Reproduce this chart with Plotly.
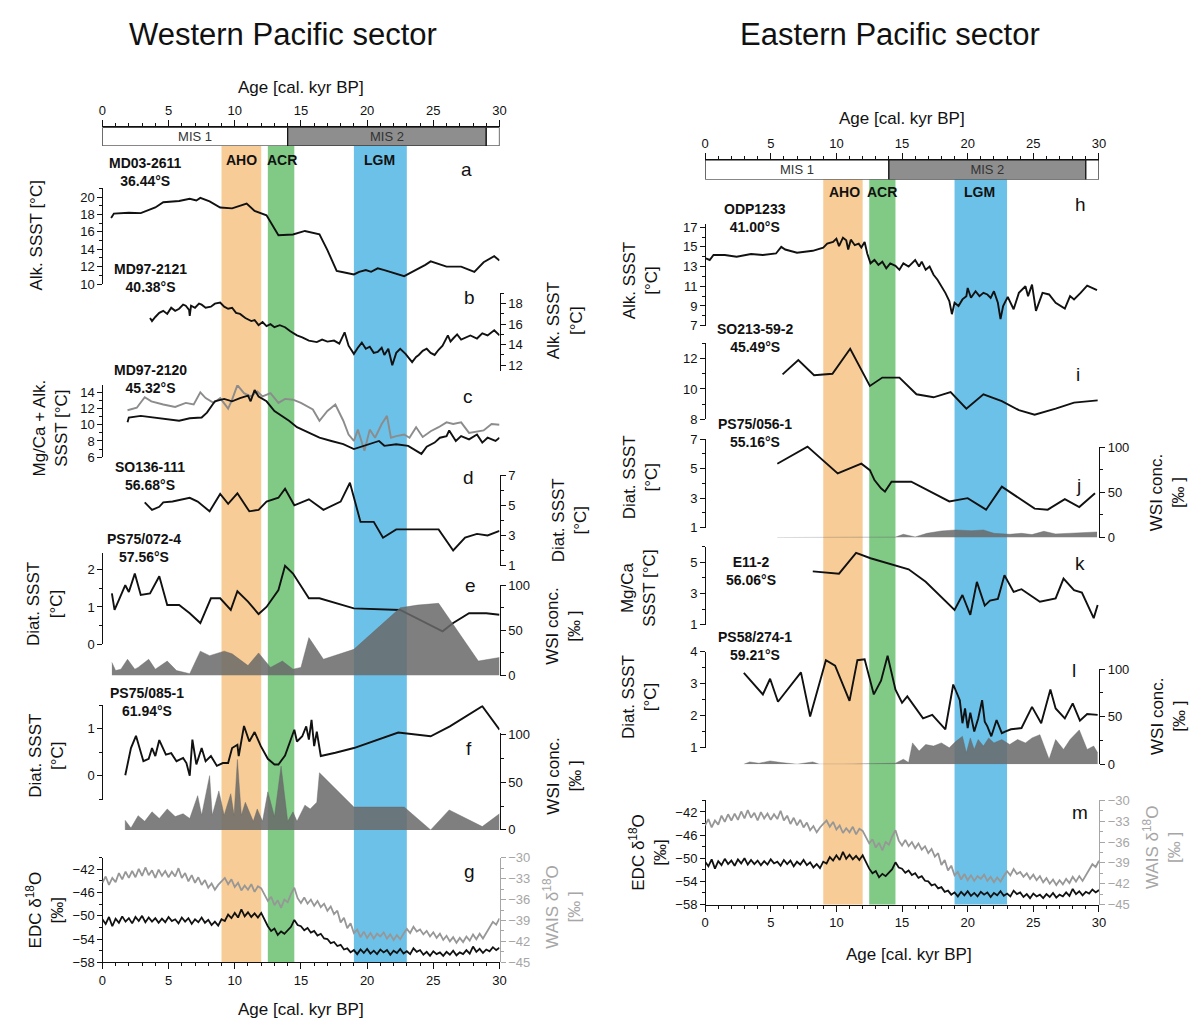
import plotly.graph_objects as go

W, H = 1203, 1028
OFF = 8  # the page body adds an 8 px margin; positions below are page pixels
FONT = "Arial, Liberation Sans, sans-serif"

# ---------------- data ----------------
AGE_TICKS = [0, 5, 10, 15, 20, 25, 30]

BAND_NAMES = ["AHO", "ACR", "LGM"]
BAND_START = [9.0, 12.5, 19.0]
BAND_END = [12.0, 14.5, 23.0]

MIS_LABELS = ["MIS 1", "MIS 2"]
MIS_START = [0, 14, 29]
MIS_END = [14, 29, 30]

# a  MD03-2611 alkenone SSST
A_AGE = [0.66, 0.87, 2.0, 2.9, 4.0, 4.6, 5.8, 6.6, 7.1, 7.4, 8.1, 8.9, 9.8, 10.9, 11.5, 12.4, 13.3, 14.4,
         15.3, 16.4, 17.0, 17.7, 18.2, 19.0, 19.4, 19.9, 20.3, 20.8, 21.3, 21.9, 22.8, 23.3, 23.7, 24.4,
         24.8, 26.0, 27.1, 28.1, 28.8, 29.6, 30.0]
A_SST = [17.6, 18.1, 18.2, 18.15, 18.8, 19.4, 19.55, 19.8, 19.6, 19.9, 19.5, 18.8, 18.7, 19.25, 18.4, 17.9,
         15.6, 15.7, 16.1, 15.7, 13.9, 11.5, 11.35, 11.1, 11.4, 11.6, 11.4, 11.8, 11.6, 11.3, 10.9, 11.3,
         11.6, 12.2, 12.6, 12.0, 12.0, 11.4, 12.5, 13.2, 12.7]

# b  MD97-2121 alkenone SSST
B_AGE = [3.6, 3.75, 4.0, 4.3, 4.6, 4.9, 5.2, 5.5, 5.8, 6.1, 6.3, 6.55, 6.6, 6.7, 7.0, 7.3, 7.5, 7.8, 8.2,
         8.5, 8.9, 9.2, 9.5, 9.8, 10.1, 10.4, 10.8, 11.25, 11.5, 11.8, 12.1, 12.4, 12.7, 13.0, 13.4, 13.8,
         14.2, 14.7, 15.1, 15.6, 16.2, 16.6, 17.0, 17.5, 17.9, 18.3, 18.6, 19.0, 19.3, 19.6, 19.9, 20.2,
         20.5, 20.8, 21.1, 21.3, 21.6, 21.9, 22.2, 22.5, 22.9, 23.2, 23.4, 23.7, 23.9, 24.2, 24.5, 24.8,
         25.1, 25.4, 25.7, 26.1, 26.3, 26.5, 26.8, 27.1, 27.4, 27.8, 28.3, 28.7, 29.1, 29.6, 30.0]
B_SST = [16.6, 16.3, 16.7, 17.1, 17.3, 17.0, 17.6, 17.3, 17.5, 17.9, 17.8, 17.4, 16.8, 17.8, 17.6, 18.0,
         17.9, 17.6, 17.7, 18.0, 18.1, 17.7, 17.5, 17.6, 17.1, 17.0, 16.6, 16.3, 16.4, 15.9, 16.2, 15.8,
         16.0, 15.7, 15.9, 15.7, 15.3, 14.9, 14.7, 14.4, 14.25, 14.5, 14.3, 14.4, 14.1, 15.2, 13.9, 13.1,
         13.7, 14.2, 13.6, 13.8, 13.2, 13.3, 13.7, 13.0, 13.6, 12.0, 13.2, 13.6, 13.1, 12.6, 12.3, 12.8,
         13.0, 13.4, 13.6, 13.2, 13.0, 13.5, 13.9, 14.9, 14.3, 14.6, 15.0, 14.5, 14.7, 14.9, 14.6, 15.1,
         14.9, 15.4, 14.9]

# c  MD97-2120 alkenone (black) and Mg/Ca (grey) SSST
C_ALK_AGE = [1.9, 2.0, 2.9, 4.0, 4.9, 5.8, 6.6, 7.5, 7.9, 8.5, 9.2, 9.8, 10.4, 11.0, 11.2, 11.5, 11.8, 12.4,
             13.0, 13.6, 14.1, 14.7, 15.6, 16.4, 17.3, 18.2, 19.0, 19.6, 20.2, 20.9, 21.3, 22.2, 23.1, 23.5,
             24.1, 24.5, 25.1, 25.5, 26.0, 26.2, 26.7, 27.1, 27.7, 28.3, 28.7, 29.1, 29.7, 30.0]
C_ALK_SST = [10.3, 10.9, 11.1, 10.9, 10.7, 10.5, 10.8, 10.9, 11.5, 12.9, 13.2, 12.9, 13.3, 13.6, 12.9, 14.3,
             13.5, 12.9, 11.7, 11.1, 10.5, 9.7, 9.0, 8.4, 8.0, 7.6, 7.0, 7.3, 7.6, 8.0, 7.4, 7.6, 7.4, 7.0,
             6.4, 7.3, 7.8, 8.4, 8.6, 9.3, 8.0, 8.6, 8.2, 8.8, 7.8, 8.4, 8.0, 8.4]
C_MGCA_AGE = [1.9, 2.6, 3.2, 3.7, 4.6, 5.5, 6.3, 6.9, 7.4, 7.8, 8.4, 8.9, 9.5, 9.8, 10.2, 10.7, 11.2, 11.7,
              12.1, 12.7, 13.3, 13.8, 14.4, 15.0, 15.9, 16.4, 17.0, 17.6, 18.2, 18.6, 19.0, 19.3, 19.8,
              20.2, 20.6, 21.1, 21.5, 21.8, 22.2, 22.8, 23.2, 23.7, 24.2, 24.8, 25.4, 26.0, 26.5, 27.1,
              27.7, 28.3, 28.8, 29.4, 30.0]
C_MGCA_SST = [11.8, 12.1, 13.4, 12.9, 12.5, 12.2, 12.7, 12.5, 14.0, 13.3, 12.7, 13.3, 12.0, 13.1, 14.9, 13.9,
              13.5, 14.1, 13.5, 13.9, 12.7, 13.2, 13.1, 12.7, 11.9, 10.5, 11.7, 12.5, 10.5, 8.8, 8.0, 9.4,
              6.8, 9.4, 8.4, 10.1, 11.1, 8.4, 8.6, 8.8, 8.4, 9.7, 8.5, 9.2, 9.7, 10.3, 10.1, 10.3, 9.0, 9.2,
              9.3, 10.1, 10.0]

# d  SO136-111 diatom SSST
D_AGE = [3.2, 3.75, 4.3, 4.6, 5.3, 6.1, 6.6, 7.2, 8.1, 8.9, 9.5, 10.2, 11.1, 11.8, 12.4, 13.3, 13.8, 14.5,
         15.6, 16.7, 18.0, 18.7, 19.5, 20.5, 21.2, 22.2, 25.4, 26.5, 27.4, 28.3, 29.1, 30.0]
D_SST = [5.2, 4.7, 4.9, 5.2, 5.25, 5.4, 5.5, 5.25, 4.6, 5.75, 5.1, 5.8, 4.6, 4.7, 5.25, 5.5, 6.1, 5.0, 5.4,
         4.7, 5.25, 6.5, 3.9, 3.9, 2.85, 3.4, 3.4, 2.0, 2.85, 3.1, 3.0, 3.3]

# e  PS75/072-4 diatom SSST and WSI concentration
E_AGE = [0.72, 0.92, 1.3, 1.73, 2.0, 2.45, 2.9, 3.6, 4.3, 4.9, 5.8, 6.6, 7.4, 8.2, 8.9, 9.7, 10.2, 11.0,
         11.8, 12.4, 13.3, 13.8, 14.4, 15.6, 16.4, 17.6, 19.0, 22.5, 25.7, 26.5, 27.7, 29.0, 30.0]
E_SST = [1.36, 0.92, 1.23, 1.58, 1.4, 1.89, 1.32, 1.36, 1.82, 1.05, 1.05, 0.83, 0.57, 1.23, 1.23, 0.92, 1.42,
         1.14, 0.81, 1.0, 1.45, 2.1, 1.89, 1.23, 1.23, 1.1, 0.96, 0.92, 0.35, 0.57, 0.83, 0.83, 0.79]
E_WSI_AGE = [0.72, 1.0, 1.4, 1.9, 2.45, 2.7, 3.5, 4.0, 4.9, 5.6, 6.6, 7.4, 8.1, 9.2, 9.8, 11.0, 11.8, 12.7,
             13.6, 14.4, 15.0, 15.6, 16.7, 17.9, 19.0, 22.5, 23.8, 25.4, 28.4, 30.0]
E_WSI = [14.5, 5.5, 7, 18, 7, 9, 18, 7, 16, 5.5, 2, 27, 22, 27, 24, 11, 25, 9, 16, 7, 9, 42, 18, 24, 29, 75,
         78, 80, 16, 20]

# f  PS75/085-1 diatom SSST and WSI concentration
F_AGE = [1.73, 2.16, 2.54, 3.1, 3.5, 3.75, 4.0, 4.3, 4.8, 5.2, 5.6, 6.1, 6.35, 6.6, 6.8, 7.1, 7.5, 7.8, 8.2,
         8.65, 9.1, 9.5, 9.8, 10.2, 10.3, 10.7, 11.1, 11.5, 11.97, 12.5, 13.0, 13.3, 13.8, 14.5, 14.7, 15.1,
         15.4, 15.6, 15.8, 16.0, 16.2, 16.4, 16.5, 17.6, 19.0, 22.35, 24.8, 26.25, 28.7, 30.0]
F_SST = [0.01, 0.59, 0.85, 0.31, 0.36, 0.59, 0.42, 0.76, 0.45, 0.48, 0.31, 0.38, 0.27, 0.0, 0.77, 0.24, 0.59,
         0.31, 0.42, 0.21, 0.27, 0.27, 0.59, 0.66, 0.42, 1.06, 0.73, 0.93, 0.63, 0.36, 0.24, 0.24, 0.43, 0.98,
         0.73, 0.84, 1.05, 0.77, 1.19, 0.63, 0.94, 0.56, 0.42, 0.49, 0.59, 0.92, 0.84, 1.05, 1.48, 0.98]
F_WSI_AGE = [1.73, 1.73, 2.16, 2.7, 3.2, 3.75, 4.3, 4.9, 5.5, 6.1, 6.6, 7.2, 7.5, 8.1, 8.3, 8.8, 9.2, 9.7,
             9.95, 10.2, 10.5, 10.8, 11.4, 11.7, 12.1, 12.5, 13.0, 13.5, 14.0, 14.4, 14.7, 15.3, 15.7, 16.2,
             16.4, 19.0, 22.8, 24.8, 26.2, 28.7, 30.0]
F_WSI = [0, 10, 2, 15, 9, 19, 12, 22, 14, 17, 12, 36, 15.5, 57, 15.5, 41, 15.5, 38, 15.5, 74, 15.5, 29, 9,
         22, 9, 40, 14, 67, 9, 19, 9, 26, 22, 29, 60, 24, 24, 0, 21, 3.5, 17]

# g / m  ice cores (EDC and WAIS d18O), regular 0.25 kyr sampling
ICE_AGE_START = 0.0
ICE_AGE_STEP = 0.25
EDC_D18O = [-50.6, -51.4, -50.2, -51.8, -50.5, -51.2, -50.1, -51.0, -50.4, -51.3, -50.2, -50.9, -50.0,
            -51.1, -50.3, -51.0, -50.4, -51.2, -50.5, -51.1, -50.2, -50.9, -50.6, -51.3, -50.3, -51.0,
            -50.4, -51.4, -50.6, -51.1, -50.3, -51.2, -50.7, -51.6, -51.0, -51.7, -50.6, -50.9, -49.8,
            -50.4, -49.5, -50.3, -48.9, -50.1, -49.4, -50.2, -49.6, -50.3, -49.5, -50.6, -51.8, -52.6,
            -52.2, -53.3, -52.7, -53.1, -52.4, -51.9, -50.7, -51.6, -51.8, -52.5, -52.1, -52.9, -52.6,
            -53.4, -53.1, -53.9, -54.0, -54.7, -54.5, -55.2, -55.0, -55.8, -55.6, -56.3, -55.9, -56.6,
            -55.8, -56.4, -55.7, -56.5, -56.0, -56.6, -55.8, -56.3, -55.9, -56.7, -56.0, -56.4, -55.7,
            -56.5, -56.1, -56.6, -55.6, -56.2, -55.9, -56.7, -56.2, -56.9, -56.1, -56.6, -56.3, -56.9,
            -56.2, -56.7, -56.0, -56.8, -56.3, -56.6, -55.9, -56.5, -55.3, -56.2, -55.7, -56.4, -55.8,
            -56.1, -55.4, -55.9, -55.5]
WAIS_D18O = [-33.6, -32.7, -33.9, -32.9, -33.5, -32.2, -33.1, -32.0, -32.9, -31.9, -32.8, -31.6, -32.6,
             -31.4, -32.5, -31.8, -32.9, -31.7, -32.6, -31.9, -32.8, -32.0, -32.7, -31.5, -32.9, -32.2,
             -33.4, -32.5, -33.6, -32.8, -33.9, -33.2, -34.3, -33.7, -34.6, -33.9, -33.4, -32.9, -33.8,
             -33.1, -34.2, -33.6, -34.7, -34.0, -34.6, -33.8, -34.9, -34.1, -34.4, -35.3, -36.2, -35.6,
             -36.8, -36.1, -37.2, -36.0, -36.4, -35.2, -34.3, -35.8, -36.5, -35.7, -36.6, -36.0, -36.9,
             -36.2, -37.1, -36.6, -37.6, -37.0, -38.1, -37.6, -39.3, -38.6, -40.1, -39.4, -40.8, -40.3,
             -41.4, -40.6, -41.5, -40.8, -41.6, -40.9, -41.3, -40.7, -41.6, -41.0, -41.8, -41.1, -41.7,
             -40.9, -40.2, -40.8, -39.9, -40.6, -40.3, -41.0, -40.5, -41.3, -40.7, -41.5, -40.9, -41.8,
             -41.2, -42.0, -41.4, -42.2, -41.5, -42.1, -41.3, -41.9, -41.0, -41.7, -40.9, -41.6, -40.8,
             -40.1, -39.2, -39.6, -38.7]

# h  ODP1233 alkenone SSST
H_AGE = [0.06, 0.35, 0.64, 1.5, 2.4, 3.5, 4.4, 5.4, 5.8, 6.1, 7.0, 8.2, 9.0, 9.3, 9.75, 10.0, 10.2, 10.5,
         10.75, 10.9, 11.1, 11.4, 11.7, 11.9, 12.15, 12.35, 12.6, 12.9, 13.2, 13.5, 13.8, 14.1, 14.5, 14.8,
         15.1, 15.5, 16.0, 16.3, 16.5, 16.8, 17.1, 17.4, 17.7, 18.0, 18.3, 18.6, 18.8, 19.0, 19.3, 19.6,
         19.9, 20.0, 20.25, 20.6, 20.9, 21.2, 21.5, 21.75, 22.0, 22.3, 22.5, 22.7, 23.05, 23.5, 23.9, 24.4,
         24.6, 24.9, 25.2, 25.7, 26.2, 26.7, 27.4, 27.8, 28.1, 28.6, 29.1, 29.85]
H_SST = [13.83, 13.67, 14.17, 14.17, 14.0, 14.27, 14.17, 14.33, 15.0, 14.73, 14.4, 14.6, 14.93, 15.33, 15.5,
         15.83, 15.07, 15.93, 15.67, 14.73, 15.73, 15.17, 15.33, 14.93, 15.5, 14.33, 13.33, 13.67, 13.17,
         13.5, 12.83, 13.33, 13.07, 12.67, 13.33, 13.0, 13.67, 13.0, 13.5, 12.67, 13.0, 12.17, 11.67, 11.0,
         10.33, 9.5, 8.17, 9.33, 9.0, 9.67, 10.0, 10.83, 9.83, 10.5, 10.0, 10.33, 10.17, 9.83, 10.5, 9.33,
         7.67, 9.0, 9.93, 8.67, 10.33, 11.0, 10.0, 11.17, 8.5, 10.33, 10.17, 9.33, 8.73, 10.0, 9.67, 10.33,
         11.07, 10.6]

# i  SO213-59-2 alkenone SSST
I_AGE = [5.9, 7.1, 8.3, 9.7, 11.05, 12.55, 13.5, 14.8, 16.1, 17.4, 18.7, 19.9, 21.2, 22.6, 23.9, 25.1,
         26.7, 28.1, 29.9]
I_SST = [10.96, 11.9, 10.9, 11.0, 12.65, 10.2, 10.75, 10.75, 9.65, 9.45, 9.8, 8.7, 9.65, 9.2, 8.6, 8.3,
         8.7, 9.1, 9.25]

# j  PS75/056-1 diatom SSST and WSI concentration
J_AGE = [5.5, 7.8, 10.1, 11.9, 12.55, 12.9, 13.4, 13.7, 14.2, 15.7, 18.6, 20.0, 21.4, 22.6, 25.1, 26.1,
         27.4, 28.5, 29.7]
J_SST = [5.33, 6.49, 4.67, 5.33, 4.89, 4.22, 3.67, 3.44, 4.11, 4.11, 2.78, 3.0, 2.22, 3.78, 2.29, 2.22,
         2.93, 2.4, 3.33]
J_WSI_AGE = [5.5, 14.5, 15.1, 16.0, 16.9, 18.0, 19.1, 20.3, 21.2, 22.0, 23.2, 24.1, 24.9, 25.8, 26.7,
             27.5, 28.7, 29.85]
J_WSI = [0, 0.5, 3.6, 0.7, 4.7, 7.3, 8.4, 7.6, 8.4, 4.7, 3.6, 4.7, 3.3, 6.9, 4.0, 4.7, 5.5, 6.2]

# k  E11-2 Mg/Ca SSST
K_AGE = [8.2, 10.2, 11.5, 12.6, 15.5, 16.8, 19.0, 19.6, 20.2, 20.7, 21.3, 21.7, 22.3, 22.8, 23.5, 24.1,
         25.5, 26.7, 27.3, 28.1, 28.7, 29.6, 29.9]
K_SST = [4.41, 4.26, 5.59, 5.25, 4.54, 3.74, 1.95, 2.9, 1.63, 3.74, 2.22, 2.54, 2.64, 4.16, 3.1, 3.27, 2.47,
         2.68, 3.95, 3.21, 3.06, 1.42, 2.26]

# l  PS58/274-1 diatom SSST and WSI concentration
L_AGE = [2.95, 4.4, 4.95, 5.55, 7.3, 8.0, 9.2, 9.9, 11.0, 11.6, 12.15, 12.85, 13.4, 13.9, 14.5, 15.0, 15.4,
         16.6, 17.3, 18.3, 18.9, 19.4, 19.6, 19.8, 20.0, 20.2, 20.5, 20.8, 21.1, 21.3, 21.5, 21.8, 22.2,
         22.6, 22.85, 23.3, 24.1, 24.9, 25.6, 26.3, 26.7, 27.4, 28.0, 28.55, 29.1, 29.9]
L_SST = [3.34, 2.67, 3.16, 2.44, 3.36, 1.98, 3.74, 3.57, 2.47, 3.74, 3.77, 2.67, 3.1, 3.88, 2.82, 2.41,
         2.61, 1.92, 2.03, 1.58, 2.98, 2.49, 1.77, 2.23, 1.62, 2.1, 1.51, 1.92, 2.49, 1.82, 1.67, 1.36, 1.87,
         1.46, 1.51, 1.58, 1.62, 2.28, 1.77, 2.82, 2.23, 1.92, 2.39, 1.85, 2.06, 2.03]
L_WSI_AGE = [2.95, 3.4, 4.1, 4.95, 5.8, 7.0, 8.2, 8.7, 10.5, 14.5, 15.1, 15.5, 15.8, 16.3, 16.8, 17.4, 18.0,
             18.6, 19.1, 19.6, 19.9, 20.2, 20.5, 20.8, 21.2, 21.6, 22.0, 22.6, 23.2, 23.8, 24.4, 24.9, 25.5,
             26.2, 26.7, 27.3, 27.8, 28.5, 29.1, 29.6, 29.9]
L_WSI = [0, 2.4, 1, 3.4, 1.7, 0, 2.4, 0, 0, 1, 5.2, 1.7, 22.4, 13.8, 20.7, 19, 22.4, 17.2, 24, 29.3, 12,
         27.6, 15.5, 25.9, 19, 27.6, 22.4, 25.9, 20.7, 25.9, 22.4, 27.6, 31, 5.2, 25.9, 15.5, 25.9, 36,
         15.5, 19, 12]


# ---------------- layout helpers (page-pixel geometry) ----------------
def px(p):
    return (p - OFF) / W


def py(p):
    return 1 - (p - OFF) / H


INK = "#111111"
WAIS_COL = "#a6a6a6"


def yaxis(p_lo, p_hi, rng, xpos, side, tickvals, minor, color=INK):
    return dict(domain=[py(p_lo), py(p_hi)], range=rng, anchor="free", position=px(xpos), side=side,
                showline=True, linecolor=color, linewidth=1.2, ticks="outside", ticklen=5, tickwidth=1.2,
                tickcolor=color, tickvals=tickvals,
                minor=dict(dtick=minor, ticklen=3, tickwidth=1, tickcolor=color, ticks="outside", showgrid=False),
                showgrid=False, zeroline=False, tickfont=dict(family=FONT, size=13, color=color),
                fixedrange=True)


def xaxis(x0p, x1p, anchor, side):
    return dict(domain=[px(x0p), px(x1p)], range=[0, 30], anchor=anchor, side=side, showline=True,
                linecolor=INK, linewidth=1.2, ticks="outside", ticklen=6, tickwidth=1.2,
                tickcolor=INK, tickvals=AGE_TICKS,
                minor=dict(dtick=1, ticklen=3, tickwidth=1, tickcolor=INK, ticks="outside", showgrid=False),
                showgrid=False, zeroline=False, tickfont=dict(family=FONT, size=13, color=INK),
                fixedrange=True)


LX0, LX1 = 99.2, 500.0     # left column x extent (age 0 -> 30)
RX0, RX1 = 707.5, 1105.0   # right column x extent

fig = go.Figure()


def line(x, y, xa, ya, color=INK, width=1.9):
    fig.add_trace(go.Scatter(x=x, y=y, xaxis=xa, yaxis=ya, mode="lines",
                             line=dict(color=color, width=width), hoverinfo="skip"))


def area(x, y, xa, ya):
    fig.add_trace(go.Scatter(x=x, y=y, xaxis=xa, yaxis=ya, mode="lines", fill="tozeroy",
                             fillcolor="rgba(105,105,105,0.85)", line=dict(color="rgba(105,105,105,0.85)", width=0.5),
                             hoverinfo="skip"))


def ice(xa, ya_edc, ya_wais):
    fig.add_trace(go.Scatter(x0=ICE_AGE_START, dx=ICE_AGE_STEP, y=WAIS_D18O, xaxis=xa, yaxis=ya_wais,
                             mode="lines", line=dict(color="#979797", width=1.8), hoverinfo="skip"))
    fig.add_trace(go.Scatter(x0=ICE_AGE_START, dx=ICE_AGE_STEP, y=EDC_D18O, xaxis=xa, yaxis=ya_edc,
                             mode="lines", line=dict(color=INK, width=1.8), hoverinfo="skip"))


def mis_bar(xa, ya):
    fig.add_trace(go.Bar(y=[0.5] * len(MIS_START), x=[e - s for s, e in zip(MIS_START, MIS_END)],
                         base=MIS_START, orientation="h", width=[1] * len(MIS_START), xaxis=xa, yaxis=ya,
                         marker=dict(color=["white", "#8e8e8e", "white"], line=dict(color=INK, width=1.2)),
                         text=MIS_LABELS, textposition="inside", insidetextanchor="middle", textangle=0,
                         constraintext="none",
                         textfont=dict(family=FONT, size=13, color="#333333"), hoverinfo="skip"))


# left column traces
line(A_AGE, A_SST, "x", "y")
line(B_AGE, B_SST, "x", "y2")
line(C_MGCA_AGE, C_MGCA_SST, "x", "y3", color="#8c8c8c")
line(C_ALK_AGE, C_ALK_SST, "x", "y3")
line(D_AGE, D_SST, "x", "y4")
area(E_WSI_AGE, E_WSI, "x", "y6")
line(E_AGE, E_SST, "x", "y5")
area(F_WSI_AGE, F_WSI, "x", "y8")
line(F_AGE, F_SST, "x", "y7")
ice("x", "y9", "y10")
mis_bar("x3", "y11")

# right column traces
line(H_AGE, H_SST, "x2", "y12")
line(I_AGE, I_SST, "x2", "y13")
area(J_WSI_AGE, J_WSI, "x2", "y15")
line(J_AGE, J_SST, "x2", "y14")
line(K_AGE, K_SST, "x2", "y16")
area(L_WSI_AGE, L_WSI, "x2", "y18")
line(L_AGE, L_SST, "x2", "y17")
ice("x2", "y19", "y20")
mis_bar("x4", "y21")

layout = dict(
    width=W, height=H, margin=dict(l=0, r=0, t=0, b=0), showlegend=False,
    paper_bgcolor="white", plot_bgcolor="rgba(0,0,0,0)", barmode="overlay",
    font=dict(family=FONT, size=13, color=INK),
    xaxis=xaxis(LX0, LX1, "y9", "bottom"),
    xaxis2=xaxis(RX0, RX1, "y19", "bottom"),
    xaxis3=xaxis(LX0, LX1, "y11", "top"),
    xaxis4=xaxis(RX0, RX1, "y21", "top"),
    # left column
    yaxis=yaxis(281.0, 183.9, [10, 21], LX0, "left", [10, 12, 14, 16, 18, 20], 1),
    yaxis2=yaxis(369.6, 290.5, [11.4, 19.0], LX1, "right", [12, 14, 16, 18], 1),
    yaxis3=yaxis(456.7, 383.6, [6, 14.9], LX0, "left", [6, 8, 10, 12, 14], 1),
    yaxis4=yaxis(566.7, 475.0, [1, 7], LX1, "right", [1, 3, 5, 7], 1),
    yaxis5=yaxis(646.7, 553.6, [0, 2.45], LX0, "left", [0, 1, 2], 0.5),
    yaxis6=yaxis(678.3, 586.7, [0, 100], LX1, "right", [0, 50, 100], 25),
    yaxis7=yaxis(804.8, 708.5, [-0.52, 1.5], LX0, "left", [0, 1], 0.5),
    yaxis8=yaxis(835.0, 736.4, [0, 102], LX1, "right", [0, 50, 100], 25),
    yaxis9=yaxis(969.3, 863.2, [-58, -40], LX0, "left", [-58, -54, -50, -46, -42], 2),
    yaxis10=yaxis(969.3, 863.2, [-45, -30], LX1, "right", [-45, -42, -39, -36, -33, -30], 1.5, color=WAIS_COL),
    yaxis11=dict(domain=[py(141), py(122)], range=[0, 1], anchor="free", position=px(LX0), visible=False,
                 fixedrange=True),
    # right column
    yaxis12=yaxis(323.3, 220.3, [7, 17.3], RX0, "left", [7, 9, 11, 13, 15, 17], 1),
    yaxis13=yaxis(418.3, 341.3, [8, 13], RX0, "left", [8, 10, 12], 1),
    yaxis14=yaxis(528.3, 438.3, [1, 7], RX0, "left", [1, 3, 5, 7], 1),
    yaxis15=yaxis(538.3, 446.7, [0, 100], RX1, "right", [0, 50, 100], 25),
    yaxis16=yaxis(626.7, 547.4, [1, 6], RX0, "left", [1, 3, 5], 1),
    yaxis17=yaxis(751.7, 654.3, [1, 4], RX0, "left", [1, 2, 3, 4], 0.5),
    yaxis18=yaxis(768.3, 671.7, [0, 100], RX1, "right", [0, 50, 100], 25),
    yaxis19=yaxis(910.7, 805.0, [-58, -40], RX0, "left", [-58, -54, -50, -46, -42], 2),
    yaxis20=yaxis(910.7, 805.0, [-45, -30], RX1, "right", [-45, -42, -39, -36, -33, -30], 1.5, color=WAIS_COL),
    yaxis21=dict(domain=[py(175), py(155)], range=[0, 1], anchor="free", position=px(RX0), visible=False,
                 fixedrange=True),
)
fig.update_layout(**layout)

# climate-event bands (behind the curves)
BAND_COLORS = ["rgb(248,204,150)", "rgb(128,202,134)", "rgb(108,193,233)"]
for xa, ytop, ybot in (("x", 141, 969.3), ("x2", 175, 910.7)):
    for s, e, c in zip(BAND_START, BAND_END, BAND_COLORS):
        fig.add_shape(type="rect", xref=xa, yref="paper", x0=s, x1=e, y0=py(ybot), y1=py(ytop),
                      fillcolor=c, line=dict(width=0), layer="below")


# ---------------- annotations ----------------
def ann(text, x, y, size=13, bold=False, color=INK, angle=0):
    if bold:
        text = "<b>" + text + "</b>"
    fig.add_annotation(text=text, x=px(x), y=py(y), xref="paper", yref="paper", showarrow=False,
                       xanchor="center", yanchor="middle", align="center", textangle=angle,
                       font=dict(family=FONT, size=size, color=color))


# column titles
ann("Western Pacific sector", 282, 28, size=31)
ann("Eastern Pacific sector", 894, 28, size=31)

# age axis titles
ann("Age [cal. kyr BP]", 300, 82, size=17)
ann("Age [cal. kyr BP]", 906, 113, size=17)
ann("Age [cal. kyr BP]", 300, 1017, size=17)
ann("Age [cal. kyr BP]", 913, 961, size=17)

# band labels
left_lbl_x = {"AHO": 240, "ACR": 280, "LGM": 379}
right_lbl_x = {"AHO": 848, "ACR": 886, "LGM": 984}
for name in BAND_NAMES:
    ann(name, left_lbl_x[name], 155, size=14, bold=True)
    ann(name, right_lbl_x[name], 188, size=14, bold=True)

# core labels
cores = [("MD03-2611<br>36.44°S", 143, 167), ("MD97-2121<br>40.38°S", 148, 275),
         ("MD97-2120<br>45.32°S", 148, 377), ("SO136-111<br>56.68°S", 147, 476),
         ("PS75/072-4<br>57.56°S", 141, 549), ("PS75/085-1<br>61.94°S", 144, 705),
         ("ODP1233<br>41.00°S", 758, 214), ("SO213-59-2<br>45.49°S", 758, 336),
         ("PS75/056-1<br>55.16°S", 758, 432), ("E11-2<br>56.06°S", 754, 572),
         ("PS58/274-1<br>59.21°S", 758, 648)]
for t, x, y in cores:
    ann(t, x, y, size=14, bold=True)

# panel letters
letters = [("a", 467, 165), ("b", 470, 295), ("c", 468, 395), ("d", 469, 477), ("e", 471, 587),
           ("f", 469, 752), ("g", 470, 877), ("h", 1086, 200), ("i", 1084, 373), ("j", 1084, 485),
           ("k", 1086, 565), ("l", 1080, 673), ("m", 1086, 817)]
for t, x, y in letters:
    ann(t, x, y, size=19)

# y-axis titles
ytitles = [
    ("Alk. SSST [°C]", 33, 232, INK),
    ("Alk. SSST<br>[°C]", 566, 318, INK),
    ("Mg/Ca + Alk.<br>SSST [°C]", 47, 427, INK),
    ("Diat. SSST<br>[°C]", 571, 521, INK),
    ("Diat. SSST<br>[°C]", 41, 606, INK),
    ("WSI conc.<br>[‰ ]", 565, 628, INK),
    ("Diat. SSST<br>[°C]", 42, 760, INK),
    ("WSI conc.<br>[‰ ]", 566, 780, INK),
    ("EDC δ<sup>18</sup>O<br>[‰]", 41, 916, INK),
    ("WAIS δ<sup>18</sup>O<br>[‰ ]", 563, 913, WAIS_COL),
    ("Alk. SSST<br>[°C]", 642, 278, INK),
    ("Diat. SSST<br>[°C]", 642, 477, INK),
    ("WSI conc.<br>[‰ ]", 1175, 493, INK),
    ("Mg/Ca<br>SSST [°C]", 640, 590, INK),
    ("Diat. SSST<br>[°C]", 642, 700, INK),
    ("WSI conc.<br>[‰ ]", 1175, 720, INK),
    ("EDC δ<sup>18</sup>O<br>[‰]", 649, 858, INK),
    ("WAIS δ<sup>18</sup>O<br>[‰ ]", 1168, 853, WAIS_COL),
]
for t, x, y, c in ytitles:
    ann(t, x, y, size=17, color=c, angle=-90)

fig.write_html("out.html")
